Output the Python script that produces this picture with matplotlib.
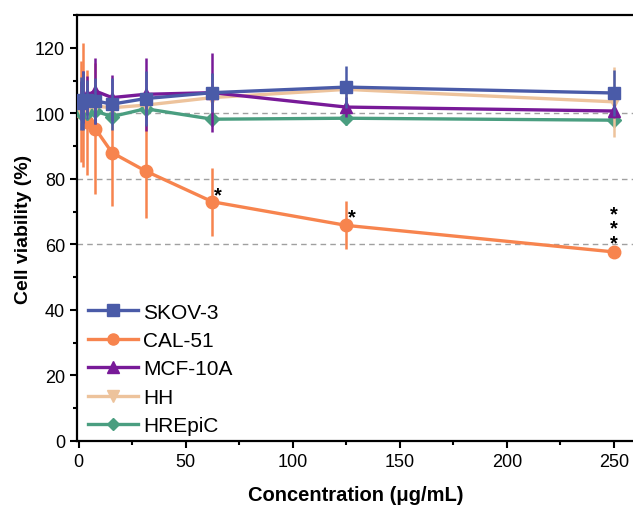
import matplotlib
matplotlib.use("Agg")
import matplotlib.pyplot as plt
from matplotlib.ticker import MultipleLocator
from matplotlib.lines import Line2D

plt.rcParams['font.family'] = ['Liberation Sans', 'DejaVu Sans']

conc = [0.98, 1.95, 3.9, 7.8, 15.6, 31.25, 62.5, 125, 250]

skov3 = [103.0, 104.0, 104.2, 103.8, 102.8, 104.5, 106.3, 108.0, 106.2]
skov3_err = [8, 9, 6, 7, 8, 8.5, 6, 6.4, 7]
cal51 = [100.5, 102.5, 97.2, 95.3, 88.0, 82.4, 73.0, 65.8, 57.7]
cal51_err = [15.5, 19, 16, 20, 16.3, 14.3, 10.4, 7.3, 1]
mcf10a = [104.0, 105.0, 105.5, 106.8, 104.8, 105.8, 106.3, 101.9, 100.7]
mcf10a_err = [6, 8, 6, 10, 7, 11.2, 12, 3, 2]
hh = [101.0, 101.5, 101.5, 102.2, 101.7, 102.5, 104.8, 107.3, 103.5]
hh_err = [4, 4, 3, 4, 4, 4, 4, 3, 10.7]
hrepic = [100.0, 101.0, 100.0, 100.7, 99.0, 101.4, 98.2, 98.5, 97.9]
hrepic_err = [2, 2, 2, 2, 2, 2, 2, 2, 2]

labels = ['SKOV-3', 'CAL-51', 'MCF-10A', 'HH', 'HREpiC']
ref_lines = [60, 80, 100]
star_pos = [(65.2, 77.5, '*'), (127.8, 70.6, '*'), (250, 67.2, '*\n*\n*')]

fig = plt.figure(figsize=(6.33, 5.06), dpi=100)
ax = fig.add_axes([77/633, 64/506, 1 - 77/633 + 0.002, (442-16)/506])

for y in ref_lines:
    ax.axhline(y, color='#a0a0a0', ls=(0, (4, 3)), lw=1.0, zorder=1)

series = [
    (cal51, cal51_err, '#F7844E', 'o', labels[1], 3),
    (hrepic, hrepic_err, '#4A9E80', 'D', labels[4], 4),
    (hh, hh_err, '#EDC39C', 'v', labels[3], 5),
    (mcf10a, mcf10a_err, '#781A98', '^', labels[2], 6),
    (skov3, skov3_err, '#4A5BA8', 's', labels[0], 7),
]
handles = {}
for vals, errs, col, mk, lab, z in series:
    ms = 9 if mk != 'D' else 7
    ax.errorbar(conc, vals, yerr=errs, color=col, marker=mk, ms=ms, lw=2.4,
                elinewidth=1.8, capsize=0, zorder=z)
    handles[lab] = Line2D([], [], color=col, marker=mk, ms=ms - 1, lw=2.4)

for x, y, s in star_pos:
    ax.text(x, y - 2.3, s, ha='center', va='center', fontsize=14.5, fontweight='bold',
            color='black', zorder=10, linespacing=0.68)

ax.set_xlim(-0.75, 259.5)
ax.set_ylim(0, 130)
ax.xaxis.set_major_locator(MultipleLocator(50))
ax.xaxis.set_minor_locator(MultipleLocator(25))
ax.yaxis.set_major_locator(MultipleLocator(20))
ax.yaxis.set_minor_locator(MultipleLocator(10))
ax.tick_params(axis='both', which='major', direction='out', length=5, width=1.5, labelsize=13)
ax.tick_params(axis='both', which='minor', direction='out', length=3, width=1.5)
for sp in ax.spines.values():
    sp.set_linewidth(1.6)
ax.spines['right'].set_visible(False)

ax.set_xlabel('Concentration (μg/mL)', fontsize=14.5, fontweight='bold', labelpad=11)
ax.set_ylabel('Cell viability (%)', fontsize=14, fontweight='bold', labelpad=2)

leg = ax.legend([handles[l] for l in labels], labels, loc='lower left', frameon=False,
                fontsize=15, handlelength=2.4, handletextpad=0.25, labelspacing=0.45,
                borderaxespad=0.0, bbox_to_anchor=(0.005, -0.006))

fig.savefig('out.png', dpi=100)
